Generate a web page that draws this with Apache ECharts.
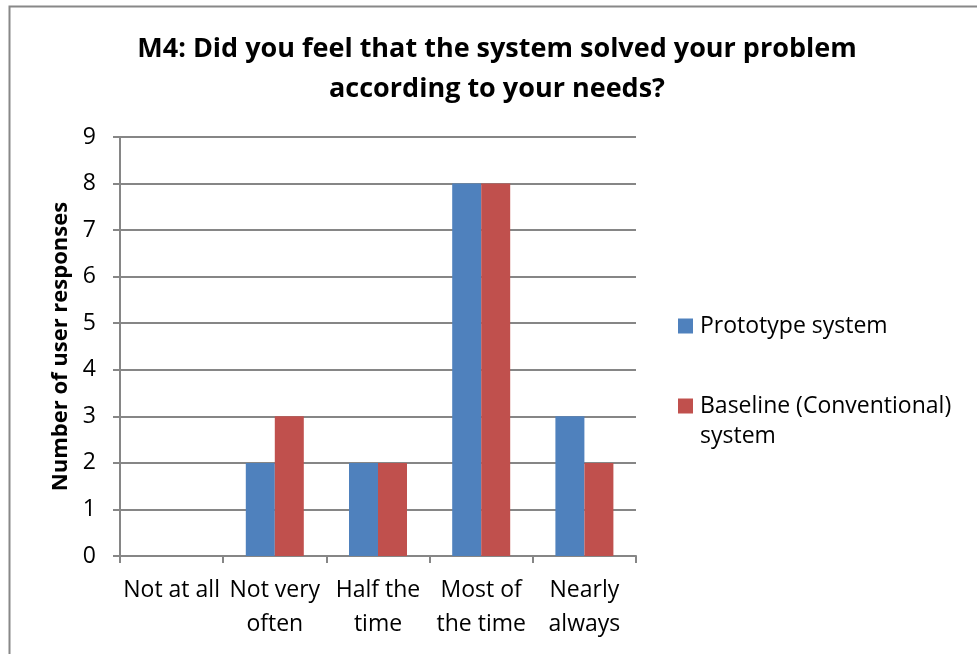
<!DOCTYPE html>
<html><head><meta charset="utf-8">
<script src="https://cdn.jsdelivr.net/npm/echarts@6/dist/echarts.min.js"></script>
<style>html,body{margin:0;padding:0;background:#fff}#c{width:977px;height:654px}</style>
</head><body><div id="c"></div>
<script>
const categories = ['Not at all', 'Not very\noften', 'Half the\ntime', 'Most of\nthe time', 'Nearly\nalways'];
const prototypeValues = [0, 2, 2, 8, 3];
const baselineValues = [0, 3, 2, 8, 2];
const seriesNames = ['Prototype system', 'Baseline (Conventional) system'];
const titleText = 'M4: Did you feel that the system solved your problem\naccording to your needs?';
const yAxisName = 'Number of user responses';

const FONT = '"Open Sans", sans-serif';
const chart = echarts.init(document.getElementById('c'), null, {renderer: 'canvas'});
chart.setOption({
  animation: false,
  backgroundColor: '#fff',
  graphic: [{
    type: 'rect', left: 7, top: 4, shape: {width: 1000, height: 700},
    style: {fill: 'none', stroke: '#888', lineWidth: 2}, z: -1
  }],
  title: {
    text: titleText, left: 492, top: 24, textAlign: 'center',
    textStyle: {fontFamily: FONT, fontWeight: 'bold', fontSize: 27, color: '#000', lineHeight: 40}
  },
  legend: {
    orient: 'vertical', left: 678, top: 311, padding: 0, itemWidth: 15, itemHeight: 15, itemGap: 20,
    icon: 'rect',
    data: seriesNames,
    formatter: function (n) { return n === seriesNames[1] ? '{p|}\n{t|Baseline (Conventional)}\n{t|system}' : '{t|' + n + '}'; },
    textStyle: {fontFamily: FONT, fontSize: 23, color: '#000', lineHeight: 30,
      rich: {t: {fontFamily: FONT, fontSize: 23, color: '#000', lineHeight: 30, padding: [0, 0, 0, 2]},
             p: {lineHeight: 30, fontSize: 23}}}
  },
  grid: {left: 120, right: 341, top: 137, bottom: 98, containLabel: false},
  xAxis: {
    type: 'category', data: categories,
    axisLine: {lineStyle: {color: '#868686', width: 2}},
    axisTick: {show: true, length: 7, lineStyle: {color: '#868686', width: 2}},
    axisLabel: {fontFamily: FONT, fontSize: 23, color: '#000', margin: 17, lineHeight: 34, interval: 0}
  },
  yAxis: {
    type: 'value', min: 0, max: 9, interval: 1,
    name: yAxisName, nameLocation: 'middle', nameGap: 46,
    nameTextStyle: {fontFamily: FONT, fontWeight: 'bold', fontSize: 22, color: '#000'},
    axisLine: {show: true, lineStyle: {color: '#868686', width: 2}},
    axisTick: {show: true, length: 7, lineStyle: {color: '#868686', width: 2}},
    axisLabel: {fontFamily: FONT, fontSize: 23, color: '#000', margin: 24},
    splitLine: {lineStyle: {color: '#868686', width: 2}}
  },
  series: [
    {name: seriesNames[0], type: 'bar', data: prototypeValues, barWidth: 29, barGap: '0%',
     itemStyle: {color: '#4F81BD'}},
    {name: seriesNames[1], type: 'bar', data: baselineValues, barWidth: 29, barGap: '0%',
     itemStyle: {color: '#C0504D'}}
  ]
});
</script></body></html>
